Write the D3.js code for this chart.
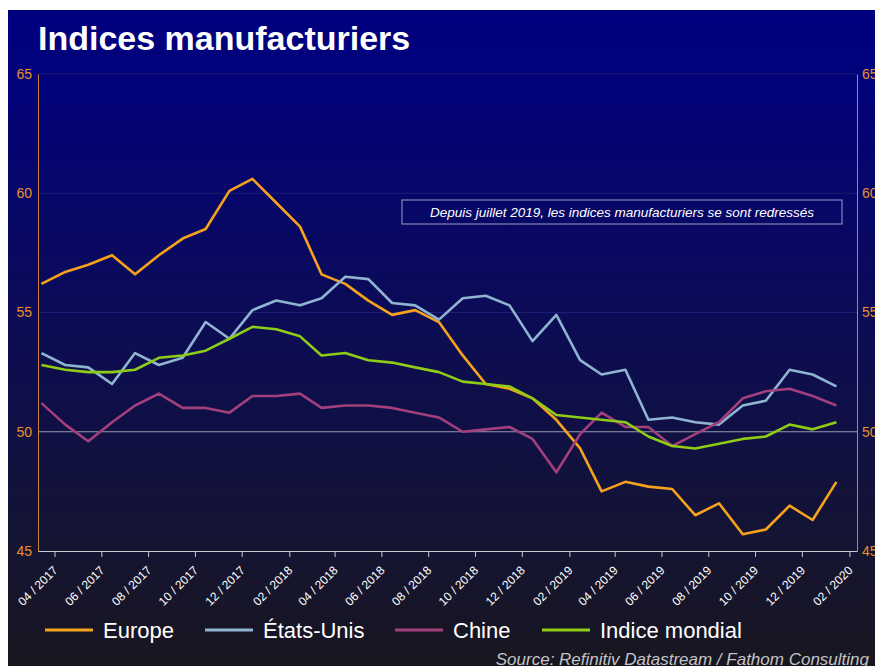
<!DOCTYPE html>
<html>
<head>
<meta charset="utf-8">
<script src="https://d3js.org/d3.v7.min.js"></script>
<style>
body { margin: 0; background: #fff; }
svg { display: block; font-family: "Liberation Sans", Arial, sans-serif; }
</style>
</head>
<body>
<div id="chart"></div>
<script>
// monthly values, 03/2017 -> 01/2020
var europe = [56.2, 56.7, 57.0, 57.4, 56.6, 57.4, 58.1, 58.5, 60.1, 60.6, 59.6, 58.6,
              56.6, 56.2, 55.5, 54.9, 55.1, 54.6, 53.2, 52.0, 51.8, 51.4, 50.5, 49.3,
              47.5, 47.9, 47.7, 47.6, 46.5, 47.0, 45.7, 45.9, 46.9, 46.3, 47.9];
var etatsUnis = [53.3, 52.8, 52.7, 52.0, 53.3, 52.8, 53.1, 54.6, 53.9, 55.1, 55.5, 55.3,
                 55.6, 56.5, 56.4, 55.4, 55.3, 54.7, 55.6, 55.7, 55.3, 53.8, 54.9, 53.0,
                 52.4, 52.6, 50.5, 50.6, 50.4, 50.3, 51.1, 51.3, 52.6, 52.4, 51.9];
var chine = [51.2, 50.3, 49.6, 50.4, 51.1, 51.6, 51.0, 51.0, 50.8, 51.5, 51.5, 51.6,
             51.0, 51.1, 51.1, 51.0, 50.8, 50.6, 50.0, 50.1, 50.2, 49.7, 48.3, 49.9,
             50.8, 50.2, 50.2, 49.4, 49.9, 50.4, 51.4, 51.7, 51.8, 51.5, 51.1];
var mondial = [52.8, 52.6, 52.5, 52.5, 52.6, 53.1, 53.2, 53.4, 53.9, 54.4, 54.3, 54.0,
               53.2, 53.3, 53.0, 52.9, 52.7, 52.5, 52.1, 52.0, 51.9, 51.4, 50.7, 50.6,
               50.5, 50.4, 49.8, 49.4, 49.3, 49.5, 49.7, 49.8, 50.3, 50.1, 50.4];

var seriesNames = ["Europe", "États-Unis", "Chine", "Indice mondial"];
var seriesColors = ["#f7a21c", "#8fb4d0", "#a2407e", "#8fcc16"];
var yTicks = [45, 50, 55, 60, 65];

var months = d3.timeMonth.range(new Date(2017, 2, 1), new Date(2020, 1, 1))
    .map(function(d) { return d3.timeDay.offset(d, 14); });
var tickDates = d3.timeMonth.range(new Date(2017, 3, 1), new Date(2020, 2, 1), 2);

var W = 875, H = 666;
var svg = d3.select("#chart").append("svg").attr("width", W).attr("height", H);

var defs = svg.append("defs");
var grad = defs.append("linearGradient").attr("id", "bg")
    .attr("x1", 0).attr("y1", 0).attr("x2", 0).attr("y2", 1);
grad.append("stop").attr("offset", "0%").attr("stop-color", "#00007f");
grad.append("stop").attr("offset", "12%").attr("stop-color", "#02027a");
grad.append("stop").attr("offset", "45%").attr("stop-color", "#0b0b58");
grad.append("stop").attr("offset", "80%").attr("stop-color", "#141434");
grad.append("stop").attr("offset", "100%").attr("stop-color", "#18161f");

svg.append("rect").attr("x", 8).attr("y", 10).attr("width", W - 8).attr("height", H - 10)
    .attr("fill", "url(#bg)");

var plotL = 38, plotR = 857, plotT = 74, plotB = 551;

var x = d3.scaleTime()
    .domain([new Date(2017, 2, 10, 12), new Date(2020, 1, 10, 20)])
    .range([plotL, plotR]);
var y = d3.scaleLinear().domain([45, 65]).range([plotB, plotT]);

// title
svg.append("text").attr("x", 38).attr("y", 50)
    .attr("fill", "#fff").attr("font-size", 34).attr("font-weight", "bold")
    .text("Indices manufacturiers");

// grid lines
svg.selectAll(".grid").data([55, 60, 65]).enter().append("line")
    .attr("x1", plotL).attr("x2", plotR)
    .attr("y1", function(d) { return y(d); }).attr("y2", function(d) { return y(d); })
    .attr("stroke", "#1e1e74").attr("stroke-width", 1);

svg.append("line").attr("x1", plotL).attr("x2", plotR)
    .attr("y1", y(50)).attr("y2", y(50))
    .attr("stroke", "#9a9ab0").attr("stroke-width", 1);

// y axes
var yAxisL = svg.append("g").attr("transform", "translate(" + plotL + ",0)")
    .call(d3.axisLeft(y).tickValues(yTicks).tickSize(0).tickPadding(6));
var yAxisR = svg.append("g").attr("transform", "translate(" + plotR + ",0)")
    .call(d3.axisRight(y).tickValues(yTicks).tickSize(0).tickPadding(5));
[yAxisL, yAxisR].forEach(function(g) {
    g.select(".domain").attr("stroke", "#c8823a");
    g.selectAll("text").attr("fill", "#e8902c").attr("font-size", 14)
        .attr("font-family", "Liberation Sans, Arial, sans-serif");
});

// x axis
var xAxis = svg.append("g").attr("transform", "translate(0," + plotB + ")")
    .call(d3.axisBottom(x).tickValues(tickDates).tickSize(6).tickSizeOuter(0)
        .tickFormat(d3.timeFormat("%m / %Y")));
xAxis.select(".domain").attr("stroke", "#c8c8d0");
xAxis.selectAll(".tick line").attr("stroke", "#c8c8d0");
xAxis.selectAll("text")
    .attr("fill", "#fff").attr("font-size", 12)
    .attr("font-family", "Liberation Sans, Arial, sans-serif")
    .attr("text-anchor", "end")
    .attr("x", 0).attr("y", 0).attr("dx", 0).attr("dy", 0)
    .attr("transform", "translate(3.5,20) rotate(-45)");

// lines
var allSeries = [europe, etatsUnis, chine, mondial];
var line = d3.line()
    .x(function(d, i) { return x(months[i]); })
    .y(function(d) { return y(d); });

svg.selectAll(".serie").data(allSeries).enter().append("path")
    .attr("class", "serie")
    .attr("d", line)
    .attr("fill", "none")
    .attr("stroke", function(d, i) { return seriesColors[i]; })
    .attr("stroke-width", 2.6)
    .attr("stroke-linejoin", "round");

// annotation
svg.append("rect").attr("x", 402).attr("y", 200).attr("width", 440).attr("height", 24)
    .attr("fill", "none").attr("stroke", "#9a9cc8").attr("stroke-width", 1);
svg.append("text").attr("x", 622).attr("y", 217)
    .attr("text-anchor", "middle").attr("fill", "#fff")
    .attr("font-size", 13.5).attr("font-style", "italic")
    .text("Depuis juillet 2019, les indices manufacturiers se sont redressés");

// legend
var legendX = [45, 205, 395, 542];
var legend = svg.selectAll(".leg").data(seriesNames).enter().append("g")
    .attr("transform", function(d, i) { return "translate(" + legendX[i] + ",630)"; });
legend.append("line").attr("x1", 0).attr("x2", 48).attr("y1", 0).attr("y2", 0)
    .attr("stroke", function(d, i) { return seriesColors[i]; }).attr("stroke-width", 3);
legend.append("text").attr("x", 58).attr("y", 8)
    .attr("fill", "#fff").attr("font-size", 22).text(function(d) { return d; });

// source
svg.append("text").attr("x", 869).attr("y", 665)
    .attr("text-anchor", "end").attr("fill", "#c4c4c8")
    .attr("font-size", 17).attr("font-style", "italic")
    .text("Source: Refinitiv Datastream / Fathom Consulting");
</script>
</body>
</html>
